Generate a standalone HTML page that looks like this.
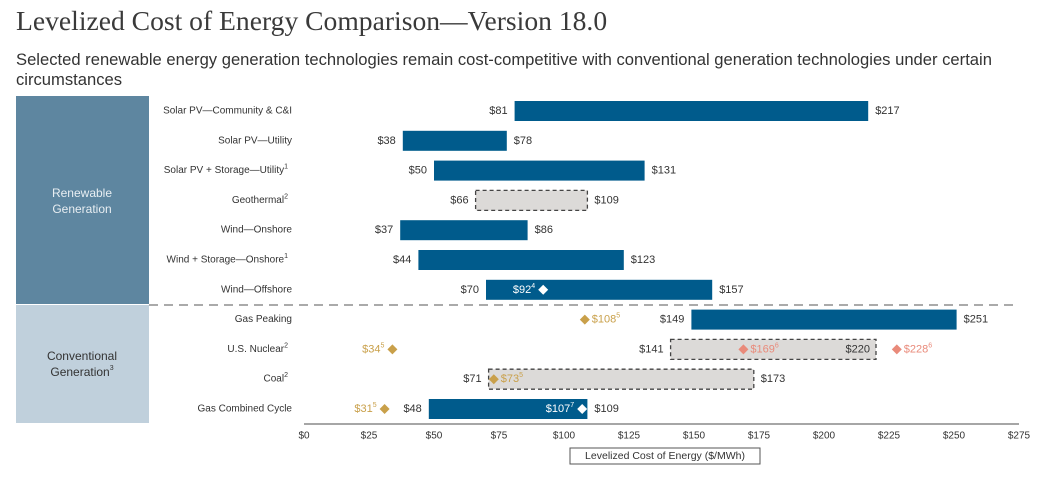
<!DOCTYPE html>
<html><head><meta charset="utf-8"><style>
body{margin:0;background:#fff;width:1045px;height:486px;overflow:hidden;font-family:"Liberation Sans",sans-serif}
#t{position:absolute;left:16px;top:5px;font-family:"Liberation Serif",serif;font-size:27.6px;color:#3a3a3a}
#s{position:absolute;left:16px;top:50px;width:1025px;font-size:16.6px;line-height:20px;color:#333}
svg{position:absolute;left:0;top:0}
</style></head><body>
<div id="t">Levelized Cost of Energy Comparison—Version 18.0</div>
<div id="s">Selected renewable energy generation technologies remain cost-competitive with conventional generation technologies under certain circumstances</div>
<svg id="c" width="1045" height="486"></svg>
<script>
const categories=["Solar PV—Community & C&I","Solar PV—Utility","Solar PV + Storage—Utility","Geothermal","Wind—Onshore","Wind + Storage—Onshore","Wind—Offshore","Gas Peaking","U.S. Nuclear","Coal","Gas Combined Cycle"];
const sups=["","","1","2","","1","","","2","2",""];
const lowValues=[81,38,50,66,37,44,70,149,141,71,48];
const highValues=[217,78,131,109,86,123,157,251,220,173,109];
const dashedRows=[false,false,false,true,false,false,false,false,true,true,false];
const markerRows=[6,7,8,8,8,9,10,10];
const markerValues=[92,108,34,169,228,73,31,107];
const markerSups=["4","5","5","6","6","5","5","7"];
const markerKinds=["white","gold","gold","salmon","salmon","gold","gold","white"];
const markerSides=["left","right","left","right","right","right","left","left"];
const ticks=[0,25,50,75,100,125,150,175,200,225,250,275];

const svg=document.getElementById('c');const NS="http://www.w3.org/2000/svg";
const x=v=>304+v*2.6;
const y=i=>111+i*29.8;
function mk(tag,a,txt){const e=document.createElementNS(NS,tag);for(const k in a)e.setAttribute(k,a[k]);if(txt!=null)e.textContent=txt;svg.appendChild(e);return e;}
function txt(xx,yy,s,sup,anchor,fill,size){const e=mk('text',{x:xx,y:yy,'text-anchor':anchor,fill:fill,'font-size':size||11,'dominant-baseline':'central'});e.appendChild(document.createTextNode(s));if(sup){const t=document.createElementNS(NS,'tspan');t.setAttribute('font-size','7');t.setAttribute('dy','-4');t.textContent=sup;e.appendChild(t);}return e;}
let e;
e=mk('rect',{x:16,y:96,width:133,height:208,fill:'#5e86a0'});

e=mk('rect',{x:16,y:305,width:133,height:118,fill:'#c0d0dc'});

e=txt(82,193,'Renewable',null,'middle','#e8eef2',12);
txt(82,209,'Generation',null,'middle','#e8eef2',12);
e=txt(82,356,'Conventional',null,'middle','#333',12);
txt(82,372,'Generation','3','middle','#333',12);
e=mk('line',{x1:149,x2:1017,y1:305,y2:305,stroke:'#aaa','stroke-width':2,'stroke-dasharray':'9,6'});

e=mk('line',{x1:x(0),x2:x(275),y1:424,y2:424,stroke:'#888','stroke-width':1.5});

ticks.forEach(t=>{const l=txt(x(t),436,'$'+t,null,'middle','#333',10);
});
categories.forEach((c,i)=>{
 const l=txt(sups[i]?288:292,y(i),c,sups[i],'end','#333',10);
 
 const d=dashedRows[i];
 const r=mk('rect',{x:x(lowValues[i]),y:y(i)-10,width:x(highValues[i])-x(lowValues[i]),height:20,fill:d?'#dcdad8':'#005b8c',stroke:d?'#444':'none','stroke-width':1.3,'stroke-dasharray':d?'4,3':''});
 
 const lv=txt(x(lowValues[i])-7,y(i),'$'+lowValues[i],null,'end','#333',11);
 
 if(i===8){const hv=txt(x(highValues[i])-6,y(i),'$'+highValues[i],null,'end','#333',11);}
 else{const hv=txt(x(highValues[i])+7,y(i),'$'+highValues[i],null,'start','#333',11);}
});
const col={white:'#fff',gold:'#c9a04a',salmon:'#e98a7a'};
markerValues.forEach((v,k)=>{
 const cx=x(v),cy=y(markerRows[k]);
 const m=mk('path',{d:`M${cx} ${cy-5}L${cx+5} ${cy}L${cx} ${cy+5}L${cx-5} ${cy}Z`,fill:col[markerKinds[k]]});
 
 const left=markerSides[k]==='left';
 const tc=markerKinds[k]==='white'?'#fff':col[markerKinds[k]];
 const l=txt(left?cx-8:cx+7,cy,'$'+v,markerSups[k],left?'end':'start',tc,11);
 
});
e=mk('rect',{x:570,y:448,width:190,height:16,fill:'#fff',stroke:'#555','stroke-width':1});

e=txt(665,456,'Levelized Cost of Energy ($/MWh)',null,'middle','#333',10.5);

</script>
</body></html>
